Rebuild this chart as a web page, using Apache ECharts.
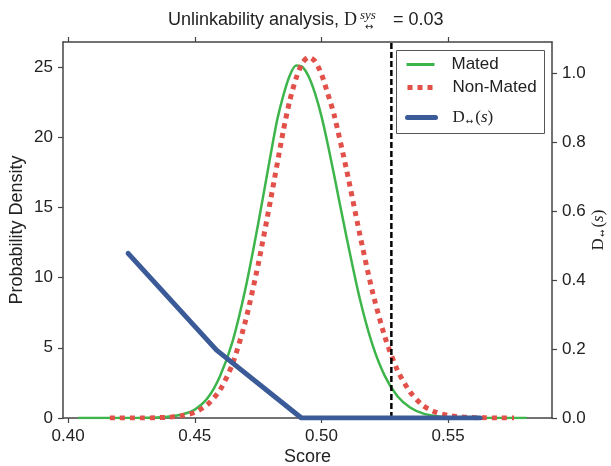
<!DOCTYPE html>
<html>
<head>
<meta charset="utf-8">
<script src="https://cdn.jsdelivr.net/npm/echarts@6/dist/echarts.min.js"></script>
<style>html,body{margin:0;padding:0;background:#fff;}#chart{width:611px;height:466px;}</style>
</head>
<body>
<div id="chart"></div>
<script>
// ---- data ----
const scoreTicks = [0.40, 0.45, 0.50, 0.55];
const densityTicks = [0, 5, 10, 15, 20, 25];
const dTicks = [0.0, 0.2, 0.4, 0.6, 0.8, 1.0];

const matedX = [0.404, 0.410, 0.415, 0.420, 0.425, 0.430, 0.435, 0.440, 0.445, 0.450, 0.455, 0.460, 0.465, 0.470, 0.475, 0.480, 0.4825, 0.485, 0.4875, 0.490, 0.4925, 0.495, 0.4975, 0.500, 0.5025, 0.505, 0.510, 0.515, 0.520, 0.525, 0.530, 0.535, 0.540, 0.545, 0.550, 0.555, 0.560, 0.565, 0.570, 0.575, 0.581];
const matedY = [0, 0, 0, 0, 0, 0.01, 0.04, 0.10, 0.25, 0.6, 1.4, 3.0, 5.5, 9.2, 13.8, 18.8, 21.2, 23.0, 24.4, 25.1, 25.0, 24.3, 23.1, 21.5, 19.5, 17.3, 12.8, 8.6, 5.3, 3.0, 1.55, 0.75, 0.33, 0.14, 0.05, 0.02, 0.01, 0, 0, 0, 0];

const nonMatedX = [0.4165, 0.420, 0.425, 0.430, 0.435, 0.440, 0.445, 0.450, 0.455, 0.460, 0.465, 0.470, 0.475, 0.480, 0.485, 0.4875, 0.490, 0.4925, 0.495, 0.4975, 0.500, 0.5025, 0.505, 0.510, 0.515, 0.520, 0.525, 0.530, 0.535, 0.540, 0.545, 0.550, 0.555, 0.560, 0.565, 0.570, 0.576];
const nonMatedY = [0, 0, 0, 0, 0.02, 0.06, 0.17, 0.4, 0.95, 2.0, 3.9, 6.9, 10.9, 15.6, 20.5, 22.6, 24.2, 25.3, 25.7, 25.4, 24.5, 23.1, 21.6, 17.6, 13.2, 9.1, 5.8, 3.4, 1.85, 0.9, 0.42, 0.18, 0.07, 0.03, 0.01, 0, 0];

const dX = [0.4237, 0.4586, 0.4921, 0.5626];
const dY = [0.478, 0.197, 0.0, 0.0];

const thresholdX = [0.5276, 0.5276];
const thresholdY = [0, 26.78];

const seriesNames = ['Mated', 'Non-Mated', 'D↔(s)'];
// ---------------------------------------

const zip = (a, b) => a.map((v, i) => [v, b[i]]);
const FONT = '"Liberation Sans", Arial, Helvetica, sans-serif';
const SERIF = '"Liberation Serif", "DejaVu Serif", serif';
const ARROWF = '"DejaVu Sans", sans-serif';
const AX = '#444';
const GREEN = '#3db54a', RED = '#e2504a', BLUE = '#3a5a98';

const chart = echarts.init(document.getElementById('chart'), null, {renderer: 'canvas'});

const xBase = {
  type: 'value', min: 0.398, max: 0.591,
  splitLine: {show: false},
  axisLine: {show: true, onZero: false, lineStyle: {color: AX, width: 1.5}},
  axisTick: {show: true, length: 5, lineStyle: {color: AX, width: 1.2}, customValues: scoreTicks}
};

const dRich = {
  d: {fontFamily: SERIF, fontSize: 17, color: '#222'},
  sub: {fontFamily: ARROWF, fontSize: 9, color: '#222', verticalAlign: 'bottom', padding: [7, 2, 0, 1]},
  p: {fontFamily: SERIF, fontSize: 17, color: '#222'},
  s: {fontFamily: SERIF, fontSize: 17, fontStyle: 'italic', color: '#222'}
};
const dLabel = '{d|D}{sub|↔}{p|(}{s|s}{p|)}';

function legendAt(name, top, lineStyle) {
  return {
    data: [name], left: 405, top: top, padding: 0, orient: 'vertical',
    itemWidth: 28, itemHeight: 20, selectedMode: false,
    itemStyle: {color: 'rgba(0,0,0,0)', borderWidth: 0, opacity: 0},
    lineStyle: lineStyle,
    textStyle: {fontFamily: FONT, fontSize: 17, color: '#222', padding: [0, 0, 0, 12], rich: dRich},
    formatter: n => n === 'D↔(s)' ? dLabel : n
  };
}

const option = {
  backgroundColor: '#fff',
  animation: false,
  title: [
    {
      text: '{a|Unlinkability analysis, }{d|D}{g| }{a| = 0.03}',
      left: 168, top: 11, padding: 0,
      textStyle: {fontWeight: 'normal', rich: {
        a: {fontFamily: FONT, fontSize: 18, fontWeight: 'normal', color: '#222'},
        d: {fontFamily: SERIF, fontSize: 18, fontWeight: 'normal', color: '#222'},
        g: {width: 31, fontSize: 18, fontWeight: 'normal'}
      }}
    },
    {text: 'sys', left: 360, top: 9, padding: 0,
      textStyle: {fontFamily: SERIF, fontStyle: 'italic', fontWeight: 'normal', fontSize: 13, color: '#222'}},
    {text: '↔', left: 365, top: 22, padding: 0,
      textStyle: {fontFamily: ARROWF, fontWeight: 'normal', fontSize: 10, color: '#222'}}
  ],
  grid: {left: 63, right: 59, top: 42, bottom: 48, containLabel: false, outerBoundsMode: 'none'},
  legend: [
    legendAt(seriesNames[0], 56, {width: 3, color: GREEN}),
    legendAt(seriesNames[1], 79, {width: 5, color: RED, type: [5, 5]}),
    legendAt(seriesNames[2], 109, {width: 5, color: BLUE, cap: 'round'})
  ],
  graphic: [{
    type: 'rect', left: 396, top: 50, z: 0,
    shape: {width: 148, height: 83},
    style: {fill: '#fff', stroke: '#555', lineWidth: 1}
  }],
  xAxis: [
    Object.assign({}, xBase, {
      position: 'bottom',
      name: 'Score', nameLocation: 'middle', nameGap: 30, nameMoveOverlap: false,
      nameTextStyle: {fontFamily: FONT, fontSize: 18, color: '#222'},
      axisLabel: {show: true, margin: 10, fontFamily: FONT, fontSize: 17, color: '#222',
        customValues: scoreTicks, formatter: v => v.toFixed(2)}
    }),
    Object.assign({}, xBase, {position: 'top', axisLabel: {show: false}})
  ],
  yAxis: [
    {
      type: 'value', position: 'left', min: 0, max: 26.78,
      splitLine: {show: false},
      axisLine: {show: true, onZero: false, lineStyle: {color: AX, width: 1.5}},
      axisTick: {show: true, length: 5, lineStyle: {color: AX, width: 1.2}, customValues: densityTicks},
      axisLabel: {show: true, margin: 10, fontFamily: FONT, fontSize: 17, color: '#222',
        customValues: densityTicks, formatter: v => String(Math.round(v))},
      name: 'Probability Density', nameLocation: 'middle', nameGap: 37, nameMoveOverlap: false,
      nameTextStyle: {fontFamily: FONT, fontSize: 18, color: '#222'}
    },
    {
      type: 'value', position: 'right', min: 0, max: 1.0917,
      splitLine: {show: false},
      axisLine: {show: true, onZero: false, lineStyle: {color: AX, width: 1.5}},
      axisTick: {show: true, length: 5, lineStyle: {color: AX, width: 1.2}, customValues: dTicks},
      axisLabel: {show: true, margin: 10, fontFamily: FONT, fontSize: 17, color: '#222',
        customValues: dTicks, formatter: v => v.toFixed(1)},
      name: dLabel, nameLocation: 'middle', nameGap: 38, nameRotate: 90, nameMoveOverlap: false,
      nameTextStyle: {rich: dRich}
    }
  ],
  series: [
    {
      name: seriesNames[0], type: 'line', xAxisIndex: 0, yAxisIndex: 0,
      data: zip(matedX, matedY), showSymbol: false, symbol: 'none', smooth: 0.25,
      color: GREEN, lineStyle: {color: GREEN, width: 2.5}, z: 2
    },
    {
      name: seriesNames[1], type: 'line', xAxisIndex: 0, yAxisIndex: 0,
      data: zip(nonMatedX, nonMatedY), showSymbol: false, symbol: 'none', smooth: 0.25,
      color: RED, lineStyle: {color: RED, width: 5, type: [5, 5], cap: 'butt'}, z: 2
    },
    {
      name: 'threshold', type: 'line', xAxisIndex: 0, yAxisIndex: 0,
      data: zip(thresholdX, thresholdY), showSymbol: false, symbol: 'none',
      color: '#000', lineStyle: {color: '#000', width: 2.5, type: [6, 3]}, z: 3
    },
    {
      name: seriesNames[2], type: 'line', xAxisIndex: 0, yAxisIndex: 1,
      data: zip(dX, dY), showSymbol: false, symbol: 'none',
      color: BLUE, lineStyle: {color: BLUE, width: 5, cap: 'round', join: 'round'}, z: 4
    }
  ]
};
chart.setOption(option);
</script>
</body>
</html>
